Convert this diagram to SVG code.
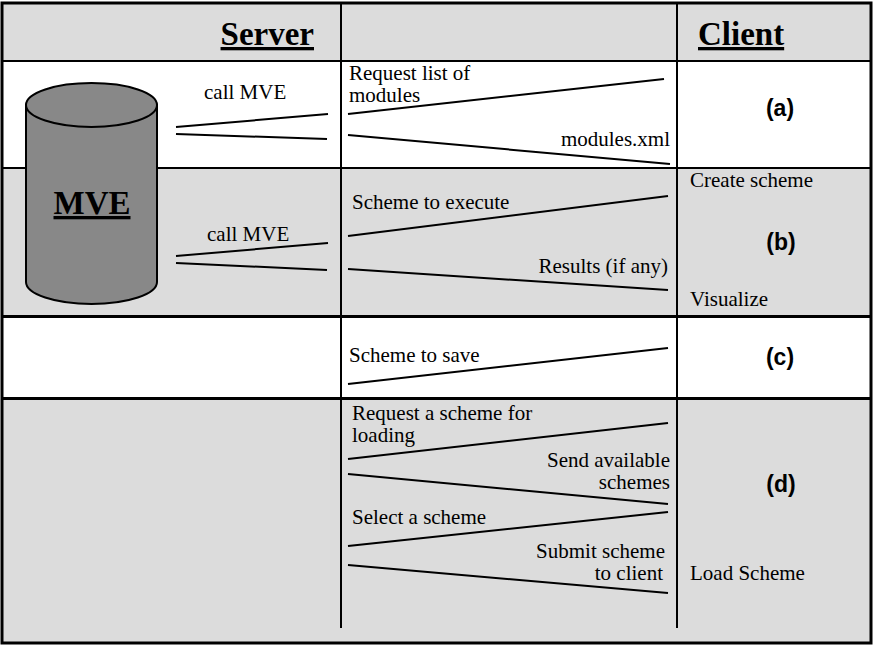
<svg xmlns="http://www.w3.org/2000/svg" width="873" height="646" viewBox="0 0 873 646">
<style>
.t{font-family:'Liberation Serif','Times New Roman',Times,serif;font-size:21px;fill:#000}
.h{font-family:'Liberation Serif','Times New Roman',Times,serif;font-size:33px;font-weight:bold;text-decoration:underline;fill:#000}
.l{font-family:'Liberation Sans',Arial,sans-serif;font-size:23px;font-weight:bold;fill:#000}
.c line{stroke:#000;stroke-width:2}
.g{fill:#dcdcdc}
</style>
<rect width="873" height="646" fill="#fff"/>
<g id="rows">
<rect class="g" x="2" y="3" width="869" height="58"/>
<rect class="g" x="2" y="169" width="869" height="147"/>
<rect class="g" x="2" y="399" width="869" height="243"/>
<g stroke="#000" fill="none">
<rect x="2" y="3" width="869" height="640" stroke-width="3"/>
<line x1="2" y1="61" x2="871" y2="61" stroke-width="2"/>
<line x1="2" y1="168" x2="871" y2="168" stroke-width="2"/>
<line x1="2" y1="316.5" x2="871" y2="316.5" stroke-width="3"/>
<line x1="2" y1="398.5" x2="871" y2="398.5" stroke-width="3"/>
<line x1="341" y1="3" x2="341" y2="628" stroke-width="2"/>
<line x1="677" y1="3" x2="677" y2="628" stroke-width="2"/>
</g>
</g>
<g id="mve">
<path d="M26,105 V282 A65.5,22 0 0 0 157,282 V105 Z" fill="#888" stroke="#000" stroke-width="2"/>
<ellipse cx="91.5" cy="105" rx="65.5" ry="22" fill="#888" stroke="#000" stroke-width="2"/>
<text x="92" y="214" class="h" text-anchor="middle">MVE</text>
</g>
<g id="header">
<text x="314" y="45" class="h" text-anchor="end">Server</text>
<text x="698" y="45" class="h">Client</text>
</g>
<g id="labels">
<text x="780" y="116" class="l" text-anchor="middle">(a)</text>
<text x="781" y="250" class="l" text-anchor="middle">(b)</text>
<text x="780" y="365" class="l" text-anchor="middle">(c)</text>
<text x="781" y="492" class="l" text-anchor="middle">(d)</text>
</g>
<g id="texts">
<text x="204" y="99" class="t">call MVE</text>
<text x="207" y="241" class="t">call MVE</text>
<text x="349" y="80" class="t">Request list of</text>
<text x="349" y="102" class="t">modules</text>
<text x="670" y="146" class="t" text-anchor="end">modules.xml</text>
<text x="690" y="187" class="t">Create scheme</text>
<text x="352" y="209" class="t">Scheme to execute</text>
<text x="668" y="273" class="t" text-anchor="end">Results (if any)</text>
<text x="690" y="306" class="t">Visualize</text>
<text x="349" y="362" class="t">Scheme to save</text>
<text x="352" y="420" class="t">Request a scheme for</text>
<text x="352" y="442" class="t">loading</text>
<text x="670" y="467" class="t" text-anchor="end">Send available</text>
<text x="670" y="489" class="t" text-anchor="end">schemes</text>
<text x="352" y="524" class="t">Select a scheme</text>
<text x="665" y="558" class="t" text-anchor="end">Submit scheme</text>
<text x="663" y="580" class="t" text-anchor="end">to client</text>
<text x="690" y="580" class="t">Load Scheme</text>
</g>
<g id="connectors" class="c">
<line x1="176" y1="127" x2="328" y2="114"/>
<line x1="176" y1="134" x2="327" y2="139"/>
<line x1="348" y1="114" x2="664" y2="79"/>
<line x1="348" y1="135" x2="670" y2="164"/>
<line x1="176" y1="256" x2="328" y2="243"/>
<line x1="176" y1="263" x2="327" y2="270"/>
<line x1="348" y1="236" x2="668" y2="196"/>
<line x1="348" y1="269" x2="668" y2="290"/>
<line x1="348" y1="384" x2="668" y2="348"/>
<line x1="348" y1="459" x2="668" y2="423"/>
<line x1="348" y1="474" x2="668" y2="504"/>
<line x1="348" y1="546" x2="668" y2="512"/>
<line x1="348" y1="565" x2="668" y2="593"/>
</g>
</svg>
